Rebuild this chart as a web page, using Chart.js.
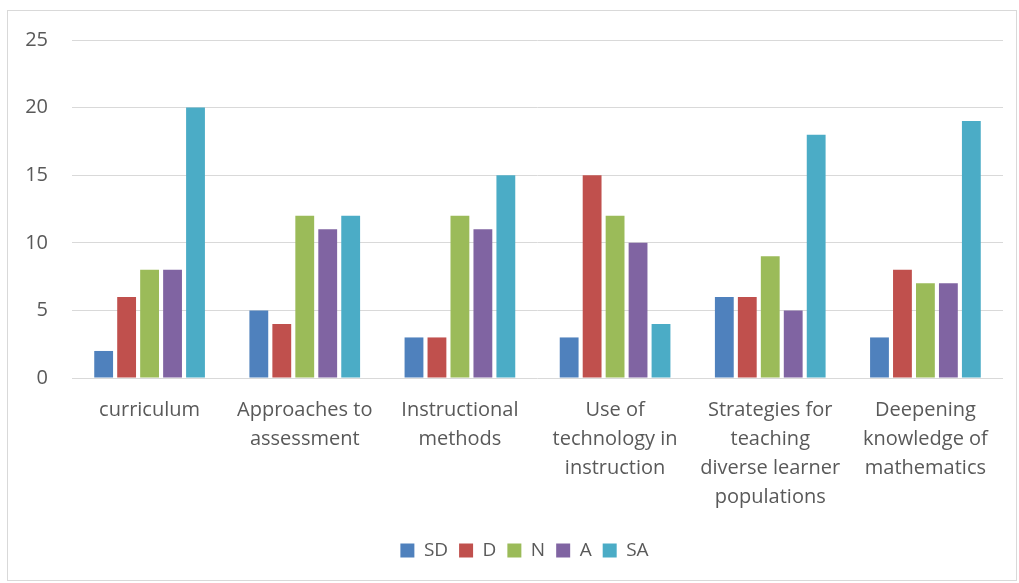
<!DOCTYPE html>
<html>
<head>
<meta charset="utf-8">
<script src="https://cdn.jsdelivr.net/npm/chart.js@4"></script>
<style>
  html, body { margin: 0; padding: 0; background: #fff; width: 1019px; height: 583px; overflow: hidden; }
  #wrap { position: absolute; left: 7px; top: 10px; width: 1010px; height: 571px; border: 1px solid #d9d9d9; box-sizing: border-box; }
  canvas { display: block; }
</style>
</head>
<body>
<div id="wrap"><canvas id="c"></canvas></div>
<script>
const categories = [
  "curriculum",
  ["Approaches to", "assessment"],
  ["Instructional", "methods"],
  ["Use of", "technology in", "instruction"],
  ["Strategies for", "teaching", "diverse learner", "populations"],
  ["Deepening", "knowledge of", "mathematics"]
];
const seriesNames = ["SD", "D", "N", "A", "SA"];
const SD = [2, 5, 3, 3, 6, 3];
const D  = [6, 4, 3, 15, 6, 8];
const N  = [8, 12, 12, 12, 9, 7];
const A  = [8, 11, 11, 10, 5, 7];
const SA = [20, 12, 15, 4, 18, 19];
const yTicks = [0, 5, 10, 15, 20, 25];
const colors = ["#4F81BD", "#C0504D", "#9BBB59", "#8064A2", "#4BACC6"];

const values = [SD, D, N, A, SA];
const FONT = "'Open Sans', Lato, sans-serif";
const TEXT = "#595959";

const legendShift = {
  id: "legendShift",
  afterLayout(chart) {
    const lg = chart.legend;
    if (lg) { lg.left += 19; lg.right += 19; }
  }
};

new Chart(document.getElementById("c"), {
  type: "bar",
  data: {
    labels: categories,
    datasets: seriesNames.map((n, i) => ({
      label: n,
      data: values[i],
      backgroundColor: colors[i],
      borderWidth: 0,
      categoryPercentage: 0.74,
      barPercentage: 0.82
    }))
  },
  plugins: [legendShift],
  options: {
    responsive: true,
    maintainAspectRatio: false,
    animation: false,
    layout: { padding: { left: 0, right: 13, top: 0, bottom: 10 } },
    plugins: {
      tooltip: { enabled: false },
      legend: {
        position: "bottom",
        labels: {
          boxWidth: 14, boxHeight: 14, padding: 11,
          color: TEXT,
          font: { family: FONT, size: 19 }
        }
      }
    },
    scales: {
      y: {
        min: 0, max: 25,
        afterBuildTicks: (s) => { s.ticks = yTicks.map(v => ({ value: v })); },
        afterFit: (s) => { s.width = 64; s.paddingTop = 29; s.paddingBottom = 0; },
        border: { display: false },
        grid: { color: "#d9d9d9", lineWidth: 1, drawTicks: false },
        ticks: { color: TEXT, padding: 24, font: { family: FONT, size: 20 } }
      },
      x: {
        border: { display: false },
        grid: { display: false, drawTicks: false },
        ticks: { color: TEXT, padding: 18, maxRotation: 0, autoSkip: false, font: { family: FONT, size: 20, lineHeight: 1.45 } }
      }
    }
  }
});
</script>
</body>
</html>
